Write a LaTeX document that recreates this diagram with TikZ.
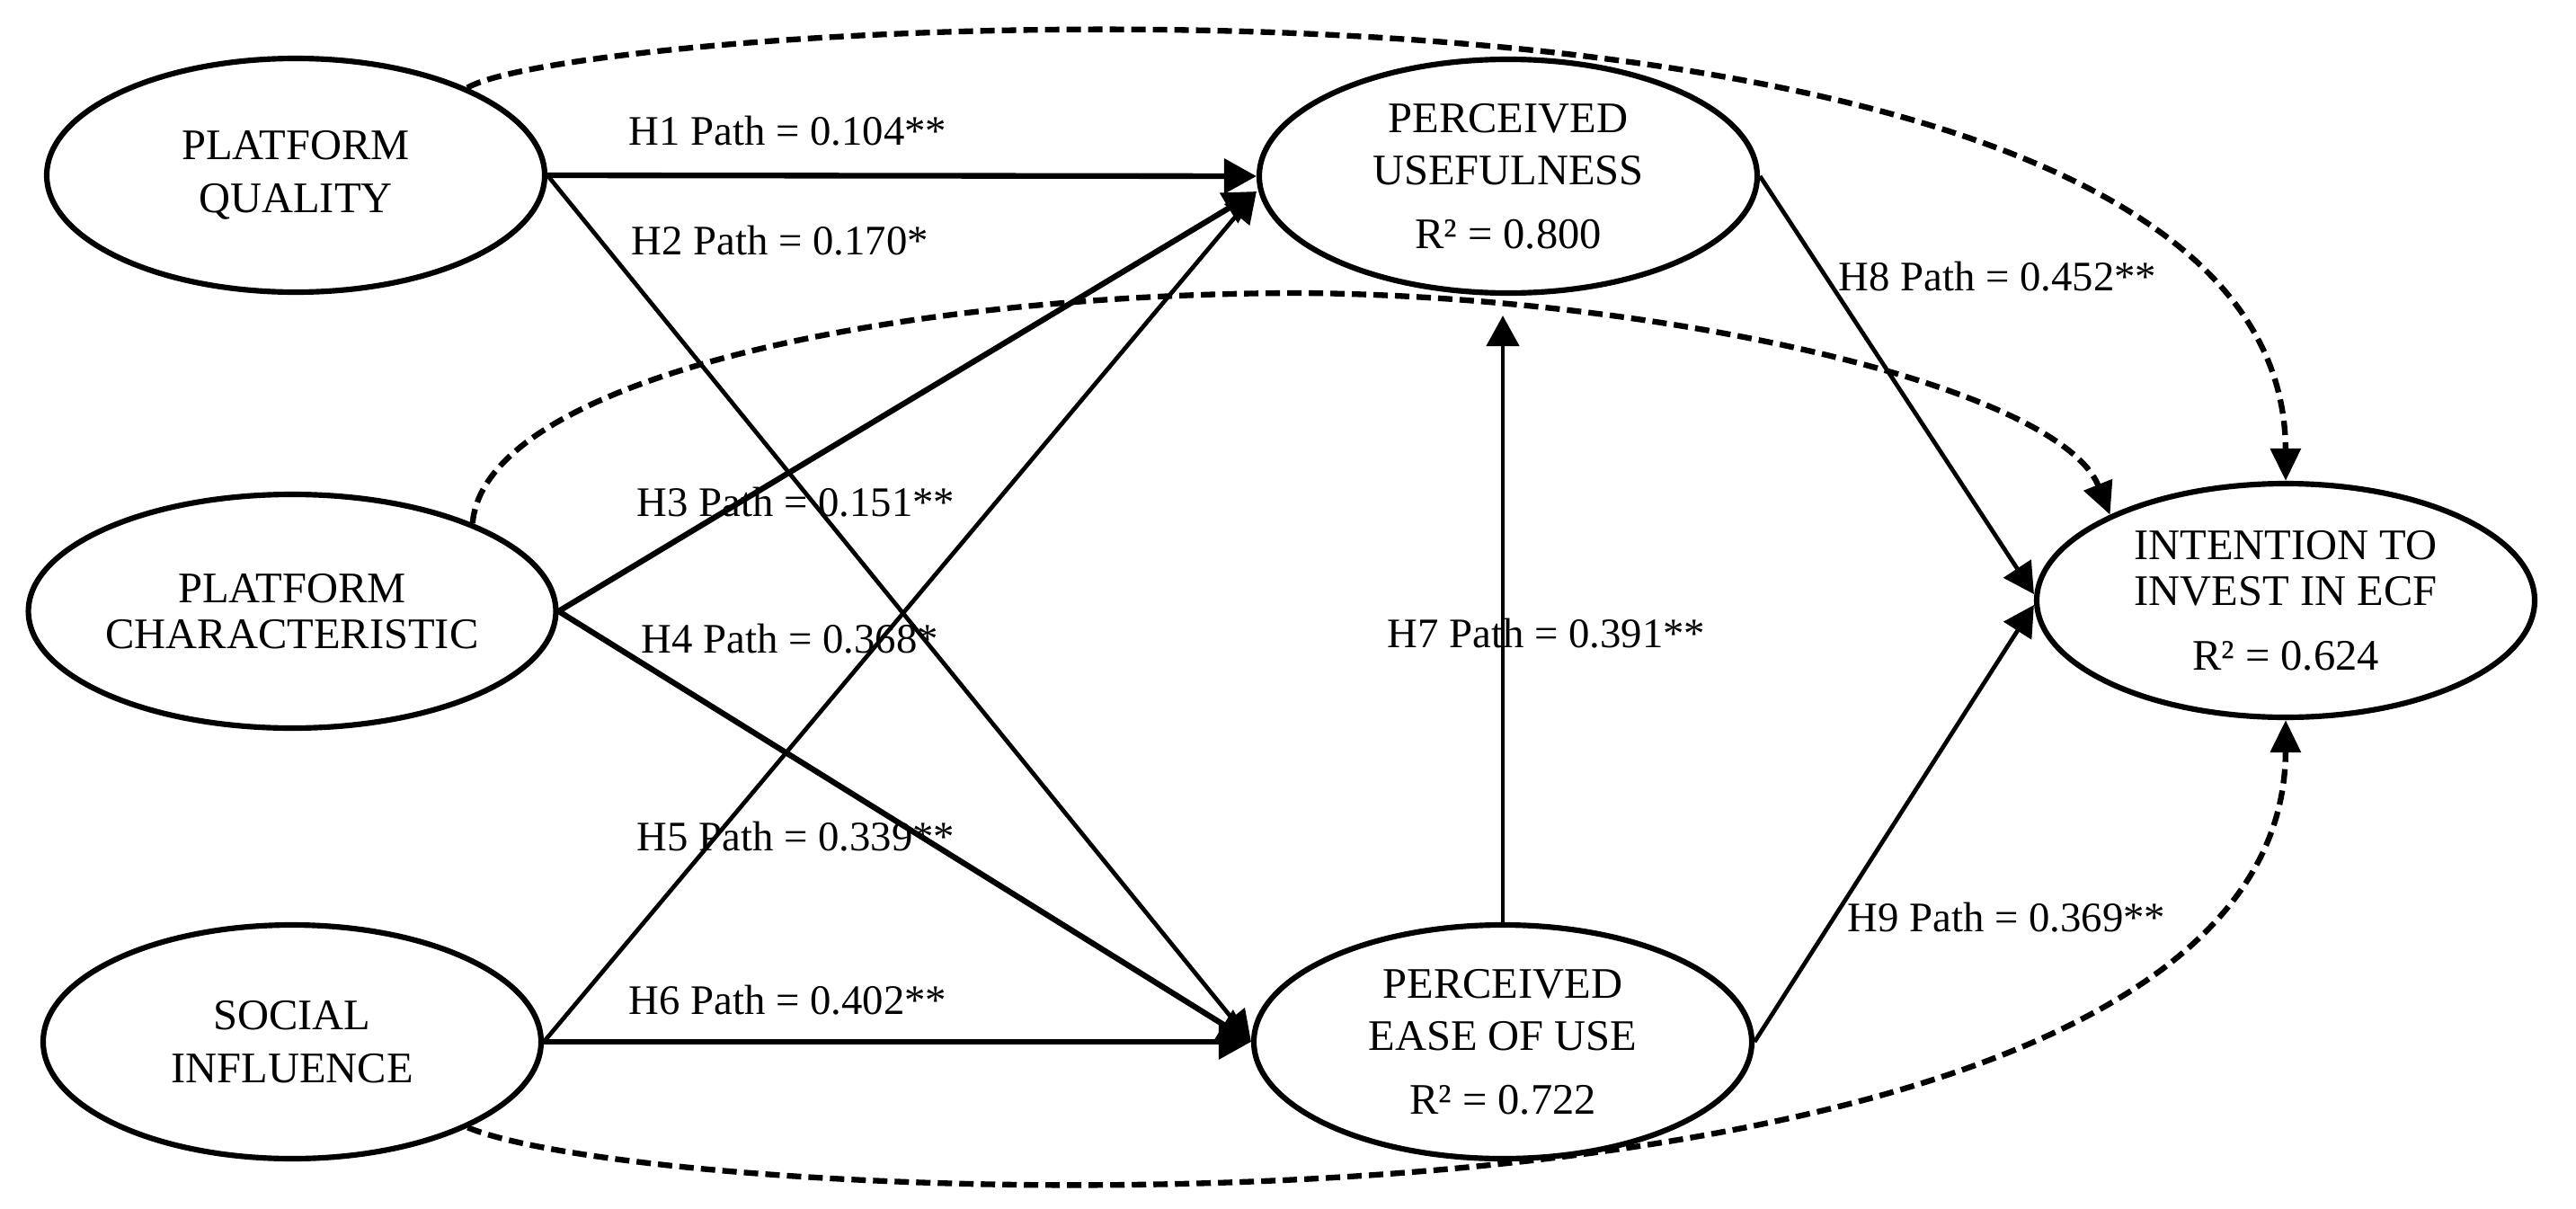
\documentclass[tikz,border=0pt]{standalone}
\usepackage{fontspec}
\setmainfont{Liberation Serif}
\usetikzlibrary{shapes.geometric,arrows.meta}
\begin{document}
\begin{tikzpicture}[x=1cm,y=1cm,
  lat/.style={ellipse, draw, line width=1.75pt, minimum width=5.54cm, minimum height=2.6cm, inner sep=0pt, align=center, font=\fontsize{13.8}{16.6}\selectfont},
  lbl/.style={font=\fontsize{13.3}{16}\selectfont, inner sep=0pt, anchor=west},
  thk/.style={line width=1.8pt, -{Triangle[length=0.36cm,width=0.38cm]}},
  thn/.style={line width=1.35pt, -{Triangle[length=0.34cm,width=0.36cm]}},
  dsh/.style={line width=1.8pt, dash pattern=on 0.16cm off 0.08cm, -{Triangle[length=0.36cm,width=0.33cm]}}]
\useasboundingbox (0,0) rectangle (28.66,-13.45);
% latent variables
\node[lat] (PQ) at (3.29,-1.95) {PLATFORM\\QUALITY};
\node[lat] (PC) at (3.25,-6.80) {PLATFORM\\[-0.07cm]CHARACTERISTIC};
\node[lat] (SI) at (3.25,-11.59) {SOCIAL\\INFLUENCE};
\node[lat] (PU) at (16.78,-1.96) {PERCEIVED\\USEFULNESS\\[0.12cm]R² = 0.800};
\node[lat] (PEOU) at (16.72,-11.59) {PERCEIVED\\EASE OF USE\\[0.12cm]R² = 0.722};
\node[lat] (ITI) at (25.43,-6.68) {INTENTION TO\\[-0.07cm]INVEST IN ECF\\[0.13cm]R² = 0.624};
% path labels
\node[lbl] (l1) at (6.99,-1.46) {H1 Path = 0.104**};
\node[lbl] (l2) at (7.02,-2.68) {H2 Path = 0.170*};
\node[lbl] (l3) at (7.08,-5.59) {H3 Path = 0.151**};
\node[lbl] (l4) at (7.13,-7.11) {H4 Path = 0.368*};
\node[lbl] (l5) at (7.08,-9.31) {H5 Path = 0.339**};
\node[lbl] (l6) at (6.99,-11.13) {H6 Path = 0.402**};
\node[lbl] (l7) at (15.43,-7.05) {H7 Path = 0.391**};
\node[lbl] (l8) at (20.45,-3.08) {H8 Path = 0.452**};
\node[lbl] (l9) at (20.55,-10.21) {H9 Path = 0.369**};
% structural paths
\draw[thk] (PQ.east) -- (PU.west);
\draw[thn] (PQ.east) -- (PEOU.west);
\draw[thk] (PC.east) -- ([yshift=-0.17cm]PU.west);
\draw[thk] (PC.east) -- (PEOU.west);
\draw[thn] (SI.east) -- ([yshift=-0.17cm]PU.west);
\draw[thk] (SI.east) -- (PEOU.west);
\draw[thn] (PEOU.north) -- ([yshift=-0.22cm]PEOU.north |- PU.south);
\draw[thn] (PU.east) -- ([yshift=0.07cm]ITI.west);
\draw[thn] (PEOU.east) -- ([yshift=-0.05cm]ITI.west);
% dashed direct paths
\coordinate (m2) at (14.50,-3.26);
\draw[dsh] (PQ.27) .. controls (6.50,-0.20) and (25.41,1.00) .. (ITI.north);
\draw[dsh] (PC.26) .. controls (5.40,-4.20) and (10.00,-3.26) .. (m2) .. controls (18.50,-3.30) and (22.90,-4.30) .. (ITI.154);
\draw[dsh] (SI.-26) .. controls (7.50,-13.50) and (25.41,-14.20) .. (ITI.south);
\end{tikzpicture}
\end{document}
